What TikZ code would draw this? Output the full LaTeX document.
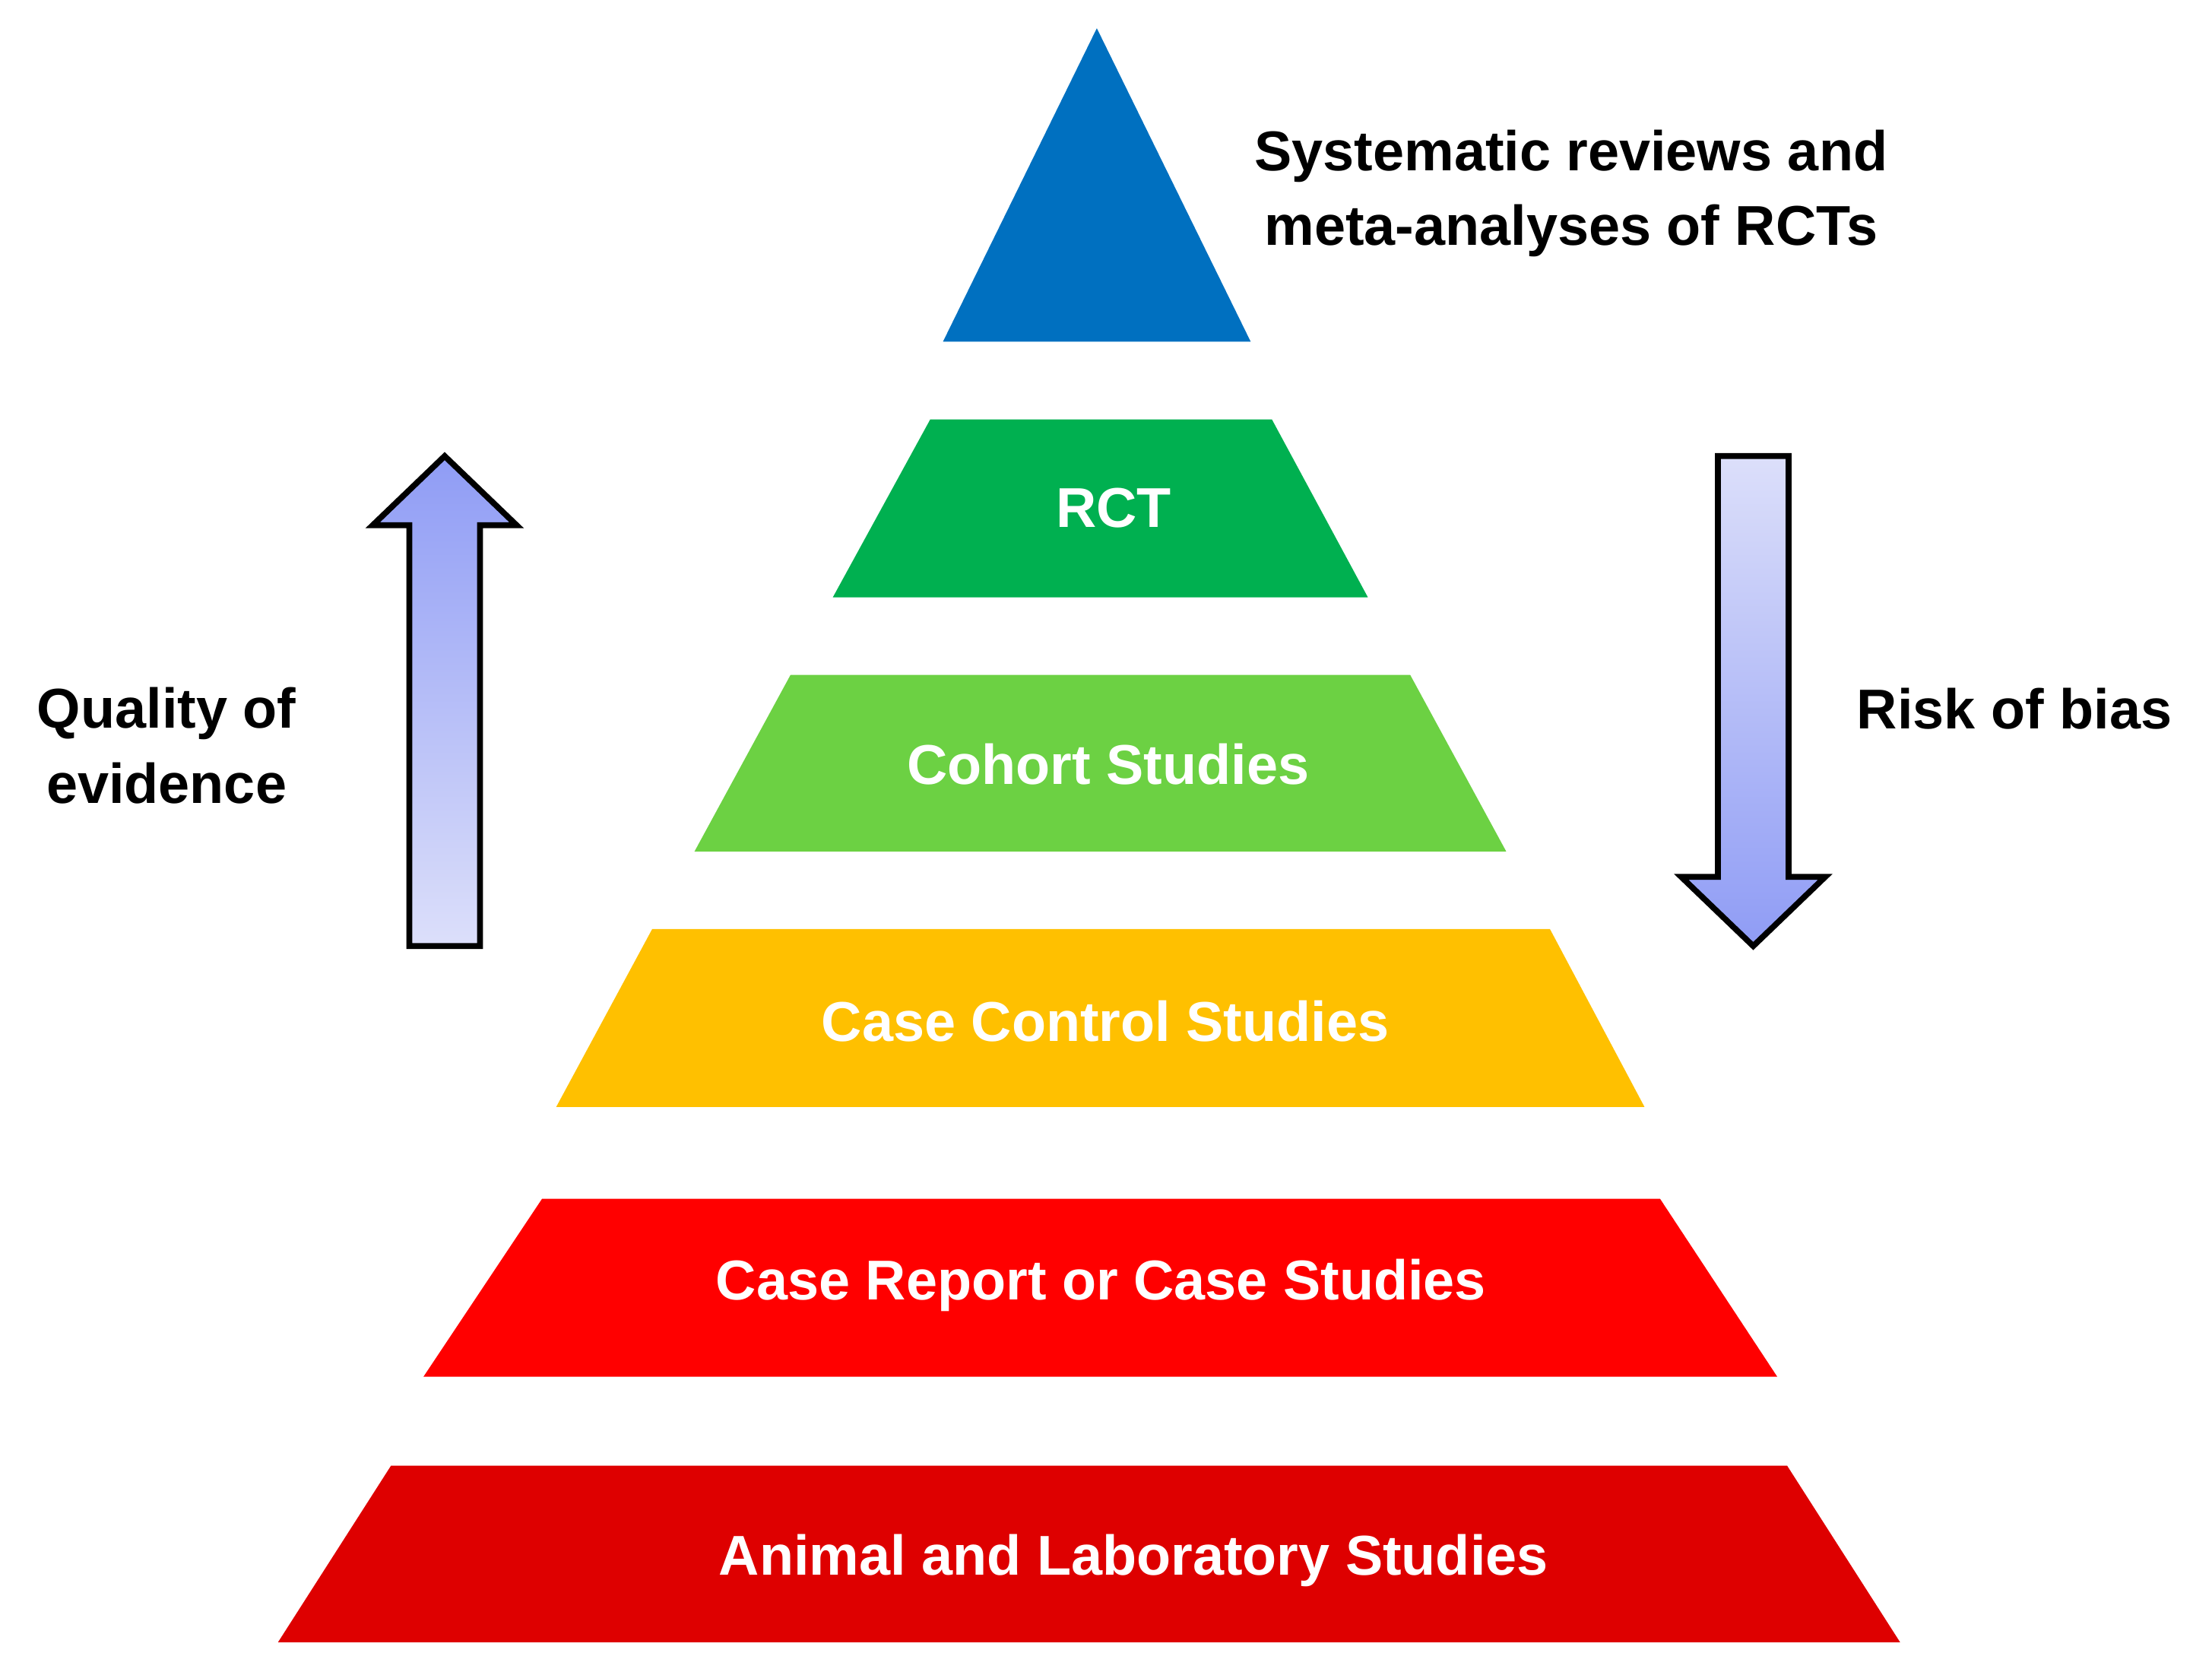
\documentclass[tikz,border=0pt]{standalone}
\usepackage{fontspec}
\setmainfont{Liberation Sans}
\usetikzlibrary{positioning}
\definecolor{topblue}{HTML}{0070C0}
\definecolor{rctgreen}{HTML}{00B050}
\definecolor{cohortgreen}{HTML}{6CD143}
\definecolor{casegold}{HTML}{FFC000}
\definecolor{reportred}{HTML}{FF0000}
\definecolor{animalred}{HTML}{DE0000}
\definecolor{arrowdark}{HTML}{8F9CF5}
\definecolor{arrowlight}{HTML}{DCDFFA}
\tikzset{
  level/.style={font=\bfseries\fontsize{21}{26}\selectfont, text=white},
  side/.style={font=\bfseries\fontsize{21}{28}\selectfont, align=center},
  pyr/.style={draw=none},
  bigarrow/.style={draw=black, line width=2.2pt, line join=miter}
}
\begin{document}
\begin{tikzpicture}[x=0.01857cm, y=-0.01857cm]
  \useasboundingbox (0,0) rectangle (1567,1184);
  % pyramid
  \fill[topblue] (777,20) -- (886,242) -- (668,242) -- cycle;
  \fill[rctgreen] (659,297) -- (901,297) -- (969,423) -- (590,423) -- cycle;
  \fill[cohortgreen] (560,478) -- (999,478) -- (1067,603) -- (492,603) -- cycle;
  \fill[casegold] (462,658) -- (1098,658) -- (1165,784) -- (394,784) -- cycle;
  \fill[reportred] (384,849) -- (1176,849) -- (1259,975) -- (300,975) -- cycle;
  \fill[animalred] (277,1038) -- (1266,1038) -- (1346,1163) -- (197,1163) -- cycle;

  \node[level] (rct) at (789,360) {RCT};
  \node[level] (cohort) at (785,541) {Cohort Studies};
  \node[level] (casectrl) at (783,723) {Case Control Studies};
  \node[level] (report) at (780,910) {Case Report or Case Studies};
  \node[level] (animal) at (803,1105) {Animal and Laboratory Studies};

  % arrows
  \shade[bigarrow, top color=arrowdark, bottom color=arrowlight]
    (315,323) -- (366,372) -- (340,372) -- (340,670) -- (290,670) -- (290,372) -- (264,372) -- cycle;
  \shade[bigarrow, top color=arrowlight, bottom color=arrowdark]
    (1217,323) -- (1267,323) -- (1267,621) -- (1293,621) -- (1242,670) -- (1191,621) -- (1217,621) -- cycle;

  % labels
  \node[side] (topnote) at (1113,137) {Systematic reviews and\\meta-analyses of RCTs};
  \node[side] (quality) at (118,528) {Quality of\\evidence};
  \node[side] (bias) at (1427,502) {Risk of bias};
\end{tikzpicture}
\end{document}
